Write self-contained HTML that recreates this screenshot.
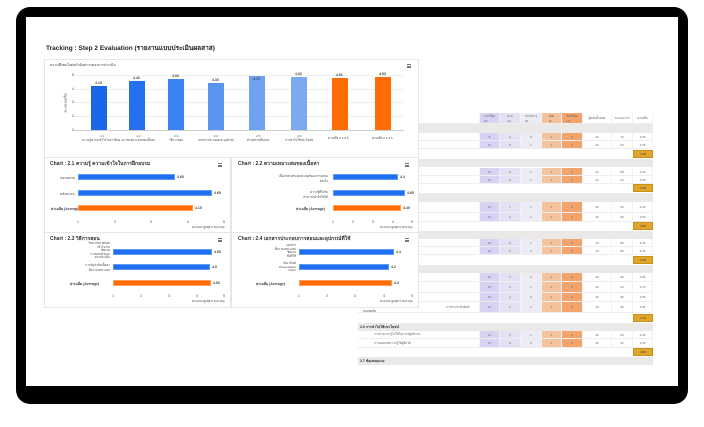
<!DOCTYPE html>
<html><head><meta charset="utf-8"><style>
*{margin:0;padding:0;box-sizing:border-box}
body{width:704px;height:427px;background:#fff;position:relative;overflow:hidden;font-family:"Liberation Sans","Noto Sans CJK SC",sans-serif;color:#333}
.a{position:absolute}
.frame{left:16px;top:7px;width:672px;height:397px;background:#000;border-radius:14px}
.scr{left:26px;top:17px;width:652px;height:369px;background:#fff}
.card{position:absolute;background:#fff;border:1px solid #e6e6e6}
.t{position:absolute;font-size:3.5px;white-space:nowrap;color:#444}
.ct{position:absolute;font-size:5px;font-weight:bold;color:#333;white-space:nowrap}
.menu{position:absolute;width:4px;height:4px;border-top:1px solid #777;border-bottom:1px solid #777}
.menu:after{content:"";position:absolute;left:0;top:1px;width:4px;height:1px;background:#777}
.hb{position:absolute;height:6px}
.blue{background:#1f6ff0;border:1px solid #5b9af5}
.org{background:#ff6d00;border:1px solid #ff9c55}
.row{position:absolute;left:358px;width:295px;display:flex}
.row div{height:100%;border-right:1px solid #f2f2f2;border-bottom:1px solid #eee;font-size:3px;color:#666;display:flex;align-items:center;justify-content:center}
.w0{width:122px;justify-content:flex-start!important;padding-left:2px}
.w1{width:20px;background:#d8d3f5}.w2{width:21px;background:#e4e1f3}.w3{width:21px;background:#ecebf6}
.w4{width:20px;background:#f4c29c}.w5{width:21px;background:#f3a46d}.w6{width:29px}.w7{width:21px}.w8{width:20px}
.gray{position:absolute;left:358px;width:295px;background:#ebe8e8;font-size:3.5px;font-weight:bold;padding-left:2px;display:flex;align-items:center}
.gold{position:absolute;left:633px;width:20px;background:#e0a62c;border:1px solid #c98f16;font-size:3px;display:flex;align-items:center;justify-content:center}
.grid{position:absolute;background:#eee}
</style></head><body>
<div class="a frame"></div>
<div class="a scr"></div>
<div class="t" style="left:46px;top:43px;font-size:6.5px;font-weight:bold;color:#222">Tracking : Step 2 Evaluation (รายงานแบบประเมินผลสาส)</div>

<!-- TABLE -->
<div class="row" style="top:113px;height:11px"><div class="w0" style="background:#fff">หัวข้อ</div><div class="w1">มากที่สุด<br>(5)</div><div class="w2">มาก<br>(4)</div><div class="w3">ปานกลาง<br>(3)</div><div class="w4">น้อย<br>(2)</div><div class="w5">น้อยที่สุด<br>(1)</div><div class="w6">ผู้ตอบทั้งหมด</div><div class="w7">คะแนนรวม</div><div class="w8">ค่าเฉลี่ย</div></div>
<div class="gray" style="top:124px;height:9px"></div>
<div class="row" style="top:133px;height:8px"><div class="w0"></div><div class="w1">8</div><div class="w2">2</div><div class="w3">9</div><div class="w4">0</div><div class="w5">0</div><div class="w6">20</div><div class="w7">73</div><div class="w8">3.65</div></div>
<div class="row" style="top:141px;height:8px"><div class="w0"></div><div class="w1">14</div><div class="w2">5</div><div class="w3">1</div><div class="w4">0</div><div class="w5">0</div><div class="w6">20</div><div class="w7">93</div><div class="w8">4.65</div></div>
<div class="gold" style="top:150px;height:8px">4.15</div>
<div class="gray" style="top:159px;height:8px"></div>
<div class="row" style="top:168px;height:8px"><div class="w0">เนื้อหาตรงกับจุดประสงค์ของการอบรม</div><div class="w1">13</div><div class="w2">6</div><div class="w3">1</div><div class="w4">0</div><div class="w5">0</div><div class="w6">20</div><div class="w7">88</div><div class="w8">4.40</div></div>
<div class="row" style="top:176px;height:8px"><div class="w0">เนื้อหาเหมาะสมกับผู้เข้าอบรม</div><div class="w1">14</div><div class="w2">5</div><div class="w3">1</div><div class="w4">0</div><div class="w5">0</div><div class="w6">20</div><div class="w7">93</div><div class="w8">4.65</div></div>
<div class="gold" style="top:184px;height:8px">4.40</div>
<div class="gray" style="top:193px;height:9px"></div>
<div class="row" style="top:202px;height:11px"><div class="w0">มีวิธีการถ่ายทอดที่เข้าใจง่ายและเหมาะสม</div><div class="w1">13</div><div class="w2">7</div><div class="w3">1</div><div class="w4">0</div><div class="w5">0</div><div class="w6">20</div><div class="w7">90</div><div class="w8">4.50</div></div>
<div class="row" style="top:213px;height:9px"><div class="w0">มีการตอบคำถามที่ชัดเจน</div><div class="w1">13</div><div class="w2">6</div><div class="w3">1</div><div class="w4">0</div><div class="w5">0</div><div class="w6">20</div><div class="w7">90</div><div class="w8">4.50</div></div>
<div class="gold" style="top:222px;height:8px">4.53</div>
<div class="gray" style="top:231px;height:8px"></div>
<div class="row" style="top:239px;height:8px"><div class="w0">เอกสารประกอบการอบรม</div><div class="w1">10</div><div class="w2">6</div><div class="w3">1</div><div class="w4">0</div><div class="w5">0</div><div class="w6">20</div><div class="w7">86</div><div class="w8">4.30</div></div>
<div class="row" style="top:247px;height:8px"><div class="w0">อุปกรณ์โสตทัศนูปกรณ์มีความเหมาะสม</div><div class="w1">10</div><div class="w2">5</div><div class="w3">4</div><div class="w4">0</div><div class="w5">0</div><div class="w6">20</div><div class="w7">86</div><div class="w8">4.30</div></div>
<div class="gold" style="top:256px;height:8px">4.30</div>
<div class="gray" style="top:265px;height:8px"></div>
<div class="row" style="top:273px;height:9px"><div class="w0">สถานที่อบรม</div><div class="w1">16</div><div class="w2">4</div><div class="w3">0</div><div class="w4">0</div><div class="w5">0</div><div class="w6">20</div><div class="w7">96</div><div class="w8">4.80</div></div>
<div class="row" style="top:282px;height:11px"><div class="w0">ระยะเวลาการอบรมเหมาะสม</div><div class="w1">15</div><div class="w2">4</div><div class="w3">1</div><div class="w4">0</div><div class="w5">0</div><div class="w6">20</div><div class="w7">94</div><div class="w8">4.70</div></div>
<div class="row" style="top:293px;height:9px"><div class="w0">อาหารและเครื่องดื่ม</div><div class="w1">16</div><div class="w2">4</div><div class="w3">0</div><div class="w4">0</div><div class="w5">0</div><div class="w6">20</div><div class="w7">96</div><div class="w8">4.80</div></div>
<div class="row" style="top:302px;height:11px"><div class="w0" style="padding-left:88px">การประชาสัมพันธ์</div><div class="w1">17</div><div class="w2">2</div><div class="w3">1</div><div class="w4">0</div><div class="w5">0</div><div class="w6">20</div><div class="w7">96</div><div class="w8">4.80</div></div>
<div class="t" style="left:363px;top:309px;font-size:3px">แบบฟอร์ม</div>
<div class="gold" style="top:314px;height:8px">4.73</div>
<div class="gray" style="top:323px;height:8px">2.6 การนำไปใช้ประโยชน์</div>
<div class="row" style="top:331px;height:8px"><div class="w0" style="padding-left:16px">การนำความรู้ไปใช้ในการปฏิบัติงาน</div><div class="w1">14</div><div class="w2">5</div><div class="w3">1</div><div class="w4">0</div><div class="w5">0</div><div class="w6">20</div><div class="w7">93</div><div class="w8">4.65</div></div>
<div class="row" style="top:339px;height:9px"><div class="w0" style="padding-left:16px">การเผยแพร่ความรู้ให้ผู้อื่นได้</div><div class="w1">12</div><div class="w2">8</div><div class="w3">0</div><div class="w4">0</div><div class="w5">0</div><div class="w6">20</div><div class="w7">92</div><div class="w8">4.60</div></div>
<div class="gold" style="top:348px;height:8px">4.63</div>
<div class="gray" style="top:357px;height:8px">2.7 ข้อเสนอแนะ</div>

<!-- BIG BAR CHART -->
<div class="card" style="left:44px;top:59px;width:375px;height:99px"></div>
<div class="t" style="left:50px;top:62px">ความพึงพอใจต่อหัวข้อต่างๆของการประเมิน</div>
<div class="menu" style="left:407px;top:64px"></div>
<div class="grid" style="left:74px;top:75px;width:330px;height:1px"></div>
<div class="grid" style="left:74px;top:89px;width:330px;height:1px"></div>
<div class="grid" style="left:74px;top:102px;width:330px;height:1px"></div>
<div class="grid" style="left:74px;top:116px;width:330px;height:1px"></div>
<div class="grid" style="left:74px;top:130px;width:330px;height:1px;background:#ccc"></div>
<div class="t" style="left:72px;top:73px">5</div><div class="t" style="left:72px;top:87px">4</div><div class="t" style="left:72px;top:100px">3</div><div class="t" style="left:72px;top:114px">2</div><div class="t" style="left:72px;top:128px">0</div>
<div class="t" style="left:56px;top:100px;transform:rotate(-90deg)">คะแนนเฉลี่ย</div>
<div class="a" style="left:91px;top:86px;width:16px;height:44px;background:#1a66e6"></div>
<div class="a" style="left:129px;top:81px;width:16px;height:49px;background:#2470ee"></div>
<div class="a" style="left:168px;top:79px;width:16px;height:51px;background:#3b82f6"></div>
<div class="a" style="left:208px;top:83px;width:16px;height:47px;background:#5b93f0"></div>
<div class="a" style="left:249px;top:76px;width:16px;height:54px;background:#6ea1f0"></div>
<div class="a" style="left:291px;top:77px;width:16px;height:53px;background:#7aaaf0"></div>
<div class="a" style="left:332px;top:78px;width:16px;height:52px;background:#ff6d00"></div>
<div class="a" style="left:375px;top:77px;width:16px;height:53px;background:#ff6d00"></div>
<div class="t" style="left:95px;top:81px;font-weight:bold">4.15</div>
<div class="t" style="left:133px;top:76px;font-weight:bold">4.40</div>
<div class="t" style="left:172px;top:74px;font-weight:bold">4.53</div>
<div class="t" style="left:212px;top:78px;font-weight:bold">4.30</div>
<div class="t" style="left:253px;top:77px;font-weight:bold">4.73</div>
<div class="t" style="left:295px;top:72px;font-weight:bold">4.63</div>
<div class="t" style="left:336px;top:73px;font-weight:bold">4.51</div>
<div class="t" style="left:379px;top:72px;font-weight:bold">4.53</div>
<div class="t" style="left:82px;top:134px;font-size:3px;text-align:center">2.1<br>ความรู้ความเข้าใจในการฝึกอ...</div>
<div class="t" style="left:122px;top:134px;font-size:3px;text-align:center">2.2<br>ความเหมาะสมของเนื้อหา</div>
<div class="t" style="left:169px;top:134px;font-size:3px;text-align:center">2.3<br>วิธีการสอน</div>
<div class="t" style="left:198px;top:134px;font-size:3px;text-align:center">2.4<br>เอกสารประกอบและอุปกรณ์</div>
<div class="t" style="left:247px;top:134px;font-size:3px;text-align:center">2.5<br>ด้านสถานที่อบรม</div>
<div class="t" style="left:285px;top:134px;font-size:3px;text-align:center">2.6<br>การนำไปใช้ประโยชน์</div>
<div class="t" style="left:328px;top:136px;font-size:3px">ค่าเฉลี่ย 2.1-2.5</div>
<div class="t" style="left:372px;top:136px;font-size:3px">ค่าเฉลี่ย 2.1-2.6</div>

<!-- SMALL CARDS -->
<div class="card" style="left:44px;top:157px;width:187px;height:76px"></div>
<div class="card" style="left:231px;top:157px;width:188px;height:76px"></div>
<div class="card" style="left:44px;top:232px;width:187px;height:76px"></div>
<div class="card" style="left:231px;top:232px;width:188px;height:76px"></div>

<div class="ct" style="left:50px;top:160px">Chart : 2.1 ความรู้ ความเข้าใจในการฝึกอบรม</div>
<div class="menu" style="left:218px;top:163px"></div>
<div class="t" style="left:60px;top:175px">ก่อนอบรม</div><div class="t" style="left:60px;top:191px">หลังอบรม</div><div class="t" style="left:51px;top:206px;font-weight:bold">ค่าเฉลี่ย (Average)</div>
<div class="hb blue" style="left:78px;top:174px;width:97px"></div><div class="t" style="left:177px;top:175px;font-weight:bold">3.65</div>
<div class="hb blue" style="left:78px;top:190px;width:134px"></div><div class="t" style="left:214px;top:191px;font-weight:bold">4.65</div>
<div class="hb org" style="left:78px;top:205px;width:115px"></div><div class="t" style="left:195px;top:206px;font-weight:bold">4.15</div>
<div class="t" style="left:77px;top:220px">1</div><div class="t" style="left:114px;top:220px">2</div><div class="t" style="left:150px;top:220px">3</div><div class="t" style="left:187px;top:220px">4</div><div class="t" style="left:223px;top:220px">5</div>
<div class="t" style="left:192px;top:225px;font-size:3px">คะแนน (สูงสุด 5 คะแนน)</div>

<div class="ct" style="left:238px;top:160px">Chart : 2.2 ความเหมาะสมของเนื้อหา</div>
<div class="menu" style="left:405px;top:163px"></div>
<div class="t" style="left:236px;top:174px;text-align:right;width:92px;font-size:3px">เนื้อหาตรงกับจุดประสงค์ของการอบรม<br>ตรงใจ</div>
<div class="t" style="left:236px;top:190px;text-align:right;width:92px;font-size:3px">ความรู้ที่ได้รับ<br>สามารถนำไปใช้ได้</div>
<div class="t" style="left:296px;top:206px;font-weight:bold">ค่าเฉลี่ย (Average)</div>
<div class="hb blue" style="left:333px;top:174px;width:65px"></div><div class="t" style="left:400px;top:175px;font-weight:bold">4.4</div>
<div class="hb blue" style="left:333px;top:190px;width:72px"></div><div class="t" style="left:407px;top:191px;font-weight:bold">4.65</div>
<div class="hb org" style="left:333px;top:205px;width:68px"></div><div class="t" style="left:403px;top:206px;font-weight:bold">4.40</div>
<div class="t" style="left:332px;top:220px">1</div><div class="t" style="left:352px;top:220px">2</div><div class="t" style="left:372px;top:220px">3</div><div class="t" style="left:392px;top:220px">4</div><div class="t" style="left:411px;top:220px">5</div>
<div class="t" style="left:380px;top:225px;font-size:3px">คะแนน (สูงสุด 5 คะแนน)</div>

<div class="ct" style="left:50px;top:235px">Chart : 2.3 วิธีการสอน</div>
<div class="menu" style="left:218px;top:238px"></div>
<div class="t" style="left:50px;top:242px;text-align:right;width:60px;font-size:3px;line-height:3.6px">วิทยากรถ่ายทอด<br>เข้าใจง่าย<br>ชัดเจน<br>การตอบคำถาม<br>ตรงประเด็น</div>
<div class="t" style="left:50px;top:263px;text-align:right;width:60px;font-size:3px">การจัดลำดับเนื้อหา<br>มีความเหมาะสม</div>
<div class="t" style="left:70px;top:281px;font-weight:bold">ค่าเฉลี่ย (Average)</div>
<div class="hb blue" style="left:113px;top:249px;width:99px"></div><div class="t" style="left:214px;top:250px;font-weight:bold">4.55</div>
<div class="hb blue" style="left:113px;top:264px;width:97px"></div><div class="t" style="left:212px;top:265px;font-weight:bold">4.5</div>
<div class="hb org" style="left:113px;top:280px;width:98px"></div><div class="t" style="left:213px;top:281px;font-weight:bold">4.53</div>
<div class="t" style="left:112px;top:294px">1</div><div class="t" style="left:140px;top:294px">2</div><div class="t" style="left:168px;top:294px">3</div><div class="t" style="left:196px;top:294px">4</div><div class="t" style="left:223px;top:294px">5</div>
<div class="t" style="left:192px;top:299px;font-size:3px">คะแนน (สูงสุด 5 คะแนน)</div>

<div class="ct" style="left:238px;top:235px">Chart : 2.4 เอกสารประกอบการสอนและอุปกรณ์ที่ใช้</div>
<div class="menu" style="left:405px;top:238px"></div>
<div class="t" style="left:236px;top:244px;text-align:right;width:60px;font-size:3px;line-height:3.6px">เอกสาร<br>มีความเหมาะสม<br>ชัดเจน<br>สื่อที่ใช้</div>
<div class="t" style="left:236px;top:262px;text-align:right;width:60px;font-size:3px;line-height:3.6px">เช่น สไลด์<br>Presentation<br>Video</div>
<div class="t" style="left:256px;top:281px;font-weight:bold">ค่าเฉลี่ย (Average)</div>
<div class="hb blue" style="left:299px;top:249px;width:95px"></div><div class="t" style="left:396px;top:250px;font-weight:bold">4.4</div>
<div class="hb blue" style="left:299px;top:264px;width:90px"></div><div class="t" style="left:391px;top:265px;font-weight:bold">4.2</div>
<div class="hb org" style="left:299px;top:280px;width:93px"></div><div class="t" style="left:394px;top:281px;font-weight:bold">4.3</div>
<div class="t" style="left:298px;top:294px">1</div><div class="t" style="left:326px;top:294px">2</div><div class="t" style="left:354px;top:294px">3</div><div class="t" style="left:383px;top:294px">4</div><div class="t" style="left:411px;top:294px">5</div>
<div class="t" style="left:380px;top:299px;font-size:3px">คะแนน (สูงสุด 5 คะแนน)</div>
</body></html>
